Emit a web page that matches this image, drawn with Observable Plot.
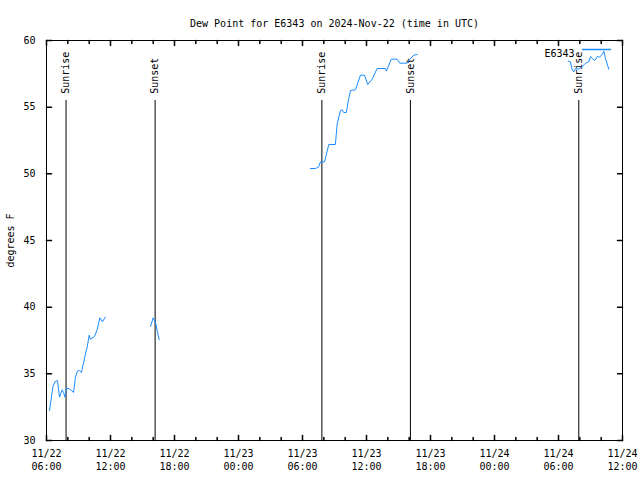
<!DOCTYPE html>
<html>
<head>
<meta charset="utf-8">
<script src="https://cdn.jsdelivr.net/npm/d3@7"></script>
<script src="https://cdn.jsdelivr.net/npm/@observablehq/plot@0.6"></script>
<style>
  html, body { margin: 0; padding: 0; background: #fff; }
</style>
</head>
<body>
<div id="chart"></div>
<script>
const titleText = "Dew Point for E6343 on 2024-Nov-22 (time in UTC)";
const yLabel = "degrees F";
const seriesName = "E6343";

const seg1Times = ["2024-11-22T06:17","2024-11-22T06:28","2024-11-22T06:35","2024-11-22T06:47","2024-11-22T07:02","2024-11-22T07:13","2024-11-22T07:20","2024-11-22T07:28","2024-11-22T07:36","2024-11-22T07:43","2024-11-22T07:51","2024-11-22T08:05","2024-11-22T08:21","2024-11-22T08:32","2024-11-22T08:43","2024-11-22T08:54","2024-11-22T09:06","2024-11-22T09:17","2024-11-22T09:24","2024-11-22T09:30","2024-11-22T09:39","2024-11-22T09:49","2024-11-22T10:00","2024-11-22T10:07","2024-11-22T10:30","2024-11-22T10:45","2024-11-22T11:00","2024-11-22T11:15","2024-11-22T11:30"];
const seg1Values = [32.25,33.25,34.0,34.4,34.5,33.25,33.5,33.8,33.6,33.25,33.9,33.9,33.75,33.6,34.75,35.2,35.25,35.1,35.6,35.9,36.5,37.0,37.9,37.6,37.8,38.3,39.2,38.9,39.25];

const seg2Times = ["2024-11-22T15:45","2024-11-22T16:00","2024-11-22T16:15","2024-11-22T16:23","2024-11-22T16:34"];
const seg2Values = [38.55,39.2,38.75,38.2,37.55];

const seg3Times = ["2024-11-23T06:45","2024-11-23T07:13","2024-11-23T07:30","2024-11-23T07:41","2024-11-23T08:04","2024-11-23T08:28","2024-11-23T09:05","2024-11-23T09:15","2024-11-23T09:34","2024-11-23T09:43","2024-11-23T09:52","2024-11-23T10:07","2024-11-23T10:18","2024-11-23T10:30","2024-11-23T10:58","2024-11-23T11:26","2024-11-23T11:49","2024-11-23T12:07","2024-11-23T12:32","2024-11-23T13:00","2024-11-23T13:47","2024-11-23T13:52","2024-11-23T14:19","2024-11-23T14:52","2024-11-23T15:07","2024-11-23T15:49","2024-11-23T16:04","2024-11-23T16:26","2024-11-23T16:45"];
const seg3Values = [50.4,50.4,50.5,50.9,50.9,52.2,52.2,53.75,54.75,54.8,54.6,54.6,55.5,56.25,56.3,57.4,57.4,56.7,57.1,57.9,57.9,57.7,58.6,58.6,58.3,58.3,58.6,58.9,58.95];

const seg4Times = ["2024-11-24T06:55","2024-11-24T07:07","2024-11-24T07:17","2024-11-24T07:26","2024-11-24T07:35","2024-11-24T07:51","2024-11-24T08:10","2024-11-24T08:32","2024-11-24T08:50","2024-11-24T09:00","2024-11-24T09:10","2024-11-24T09:24","2024-11-24T09:38","2024-11-24T09:50","2024-11-24T10:06","2024-11-24T10:15","2024-11-24T10:24","2024-11-24T10:43"];
const seg4Values = [58.45,58.4,57.8,57.65,57.9,57.85,58.0,58.3,58.4,58.8,58.65,58.5,58.8,58.75,58.95,59.2,58.65,57.85];

const eventTimes = ["2024-11-22T07:50","2024-11-22T16:11","2024-11-23T07:49","2024-11-23T16:07","2024-11-24T07:54"];
const eventLabels = ["Sunrise","Sunset","Sunrise","Sunset","Sunrise"];

const xDomain = ["2024-11-22T06:00","2024-11-24T12:00"];
const yDomain = [30, 60];
const yTicks = [30, 35, 40, 45, 50, 55, 60];
const eventLineTop = 55.5;
const eventLabelY = 56;

const parse = s => new Date(s + "Z");
const segs = [[seg1Times, seg1Values], [seg2Times, seg2Values], [seg3Times, seg3Values], [seg4Times, seg4Values]];
const data = segs.flatMap(([t, v], i) => t.map((s, j) => ({time: parse(s), value: v[j], seg: i})));
const events = eventTimes.map((s, i) => ({time: parse(s), label: eventLabels[i]}));

const x0 = parse(xDomain[0]), x1 = parse(xDomain[1]);
const majorTicks = d3.utcHour.every(6).range(x0, new Date(+x1 + 1));
const minorTicks = d3.utcHour.every(2).range(x0, new Date(+x1 + 1)).filter(d => d.getUTCHours() % 6 !== 0);
const fmt = d3.utcFormat("%m/%d\n%H:%M");

const lineShape = {draw(context, l) { context.moveTo(0, 0); context.lineTo(0, -l); }};
const blue = "#1a8cff";

const chart = Plot.plot({
  width: 640,
  height: 480,
  marginLeft: 46,
  marginRight: 18,
  marginTop: 40,
  marginBottom: 40,
  style: {fontFamily: "'DejaVu Sans Mono', monospace", fontSize: "10px", background: "#fff", color: "#000"},
  x: {type: "utc", domain: [x0, x1]},
  y: {domain: yDomain},
  marks: [
    Plot.frame({stroke: "#000"}),
    // inside ticks
    Plot.vector(majorTicks, {x: d => d, y: yDomain[0], length: 5, rotate: 0, anchor: "start", shape: lineShape, stroke: "#000"}),
    Plot.vector(majorTicks, {x: d => d, y: yDomain[1], length: 5, rotate: 180, anchor: "start", shape: lineShape, stroke: "#000"}),
    Plot.vector(minorTicks, {x: d => d, y: yDomain[0], length: 3, rotate: 0, anchor: "start", shape: lineShape, stroke: "#000"}),
    Plot.vector(minorTicks, {x: d => d, y: yDomain[1], length: 3, rotate: 180, anchor: "start", shape: lineShape, stroke: "#000"}),
    Plot.vector(yTicks, {x: x0, y: d => d, length: 5, rotate: 90, anchor: "start", shape: lineShape, stroke: "#000"}),
    Plot.vector(yTicks, {x: x1, y: d => d, length: 5, rotate: -90, anchor: "start", shape: lineShape, stroke: "#000"}),
    Plot.axisX(majorTicks, {tickSize: 0, tickPadding: 7, tickFormat: fmt, lineHeight: 1.3, label: null}),
    Plot.axisY(yTicks, {tickSize: 0, tickPadding: 11, label: yLabel, labelAnchor: "center", labelOffset: 40, labelArrow: "none"}),
    // sunrise / sunset
    Plot.ruleX(events, {x: "time", y1: yDomain[0], y2: eventLineTop, stroke: "#000"}),
    Plot.text(events, {x: "time", y: eventLabelY, text: "label", rotate: -90, textAnchor: "start", fill: "#000"}),
    // data
    Plot.line(data, {x: "time", y: "value", z: "seg", stroke: blue, strokeWidth: 1}),
    // legend
    Plot.text([seriesName], {frameAnchor: "top-right", dx: -48, dy: 9, textAnchor: "end", fill: "#000"}),
    Plot.vector([seriesName], {frameAnchor: "top-right", dx: -12, dy: 9, length: 28, rotate: 90, anchor: "end", shape: lineShape, stroke: blue}),
    // title
    Plot.text([titleText], {frameAnchor: "top", dy: -21, fill: "#000"})
  ]
});
document.getElementById("chart").appendChild(chart);
</script>
</body>
</html>
